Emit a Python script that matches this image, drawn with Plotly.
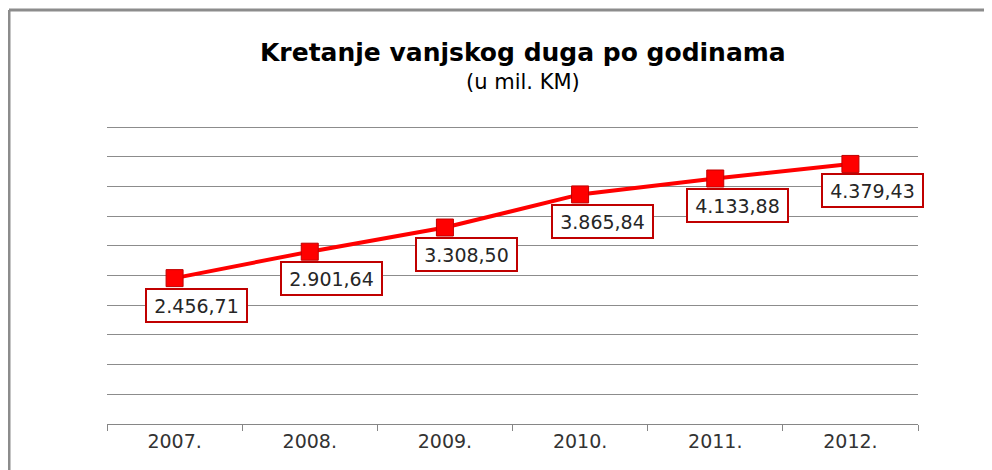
import plotly.graph_objects as go

years = ["2007.", "2008.", "2009.", "2010.", "2011.", "2012."]
debt = [2456.71, 2901.64, 3308.50, 3865.84, 4133.88, 4379.43]
debt_labels = ["2.456,71", "2.901,64", "3.308,50", "3.865,84", "4.133,88", "4.379,43"]

title_text = "Kretanje vanjskog duga po godinama"
subtitle_text = "(u mil. KM)"

OFF = 8  # default page body margin
W, H = 992 - OFF, 470 - OFF
# plot area in page pixels: x 107..918, y 125..424 (top gridline at ~127)
ML, MT = 107 - OFF, 125 - OFF
MR = W - (918 - OFF)
MB = H - (424 - OFF)
pw = W - ML - MR
ph = H - MT - MB

def px_x(px):
    return (px - OFF - ML) / pw

def px_y(py):
    return (H - MB - (py - OFF)) / ph

fig = go.Figure()
fig.add_trace(go.Scatter(
    x=years, y=debt, mode="lines+markers",
    line=dict(color="#ff0000", width=4),
    marker=dict(symbol="square", size=17, color="#ff0000",
                line=dict(color="#c00000", width=1)),
    hoverinfo="skip", showlegend=False,
))

annotations = []
for i, (y, t) in enumerate(zip(debt, debt_labels)):
    annotations.append(dict(
        x=i, y=y, xref="x", yref="y", text=t, showarrow=False,
        xanchor="center", yanchor="middle",
        xshift=22, yshift=-27, width=93, height=25,
        font=dict(family="DejaVu Sans", size=19, color="#262626"),
        bgcolor="white", bordercolor="#c00000", borderwidth=2, borderpad=3,
    ))

annotations.append(dict(
    x=px_x(523), y=px_y(53), xref="paper", yref="paper", text="<b>" + title_text + "</b>",
    showarrow=False, xanchor="center", yanchor="middle",
    font=dict(family="DejaVu Sans", size=25, color="black"),
))
annotations.append(dict(
    x=px_x(523), y=px_y(82), xref="paper", yref="paper", text=subtitle_text,
    showarrow=False, xanchor="center", yanchor="middle",
    font=dict(family="DejaVu Sans", size=21, color="black"),
))

shapes = [
    dict(type="line", xref="paper", yref="paper", x0=px_x(9), y0=px_y(10), x1=px_x(1000), y1=px_y(10),
         line=dict(color="#8c8c8c", width=3), layer="above"),
    dict(type="line", xref="paper", yref="paper", x0=px_x(9), y0=px_y(10), x1=px_x(9), y1=px_y(480),
         line=dict(color="#8c8c8c", width=3), layer="above"),
]

fig.update_layout(
    width=W, height=H,
    margin=dict(l=ML, r=MR, t=MT, b=MB, pad=0, autoexpand=False),
    paper_bgcolor="white", plot_bgcolor="white",
    annotations=annotations, shapes=shapes,
    xaxis=dict(
        type="category", range=[-0.5, 5.5], showgrid=False,
        showline=True, linecolor="#868686", linewidth=1,
        ticks="outside", tickson="boundaries", ticklen=6, tickcolor="#868686",
        tickfont=dict(family="DejaVu Sans", size=19, color="#333333"),
        automargin=False, fixedrange=True,
    ),
    yaxis=dict(
        range=[0, 5035], tick0=0, dtick=500, showgrid=True, gridcolor="#8c8c8c", gridwidth=1,
        showticklabels=False, zeroline=False, showline=False,
        automargin=False, fixedrange=True,
    ),
)

fig.write_html("out.html", config={"displayModeBar": False})
